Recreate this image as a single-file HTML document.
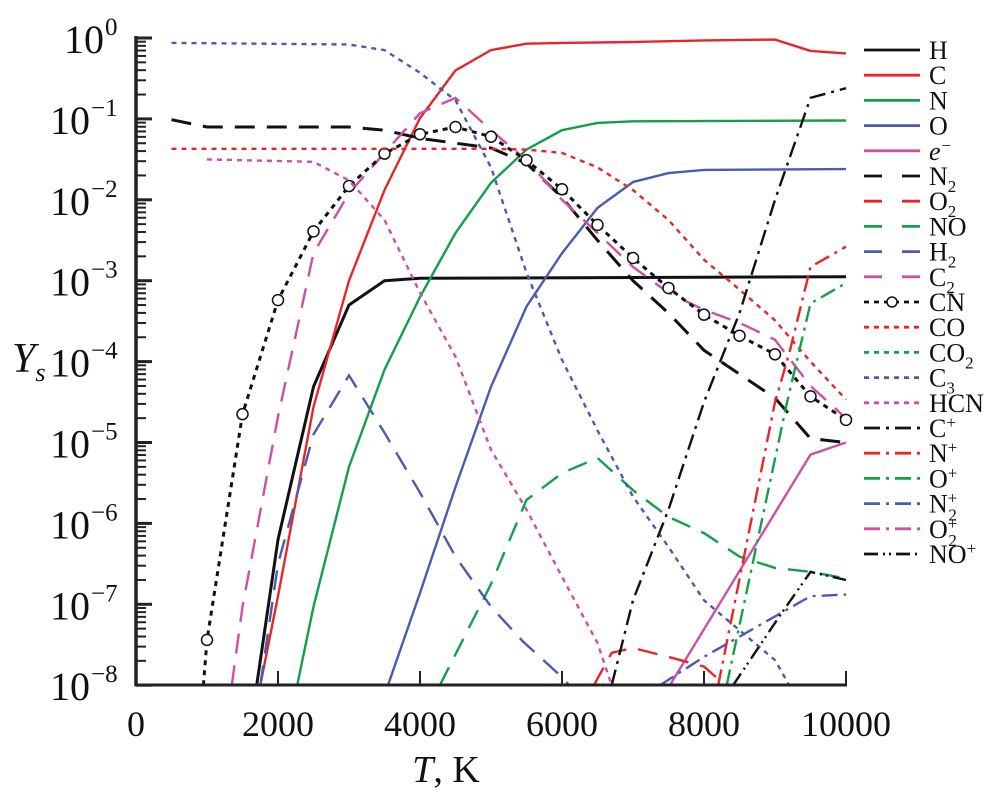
<!DOCTYPE html>
<html><head><meta charset="utf-8"><style>
html,body{margin:0;padding:0;background:#fff;}
svg{display:block;font-family:"Liberation Serif","Times New Roman",serif;}
text{font-family:"Liberation Serif","Times New Roman",serif;}
</style></head><body>
<svg id="chart" width="987" height="800" viewBox="0 0 987 800" xmlns="http://www.w3.org/2000/svg">
<g id="series"></g>
<g id="axes"></g>
<g id="legend"></g>
</svg>
<script>
const NS="http://www.w3.org/2000/svg";
const xTicks=[0,2000,4000,6000,8000,10000];
const yTickExps=[0,-1,-2,-3,-4,-5,-6,-7,-8];
const H_T=[1700,2000,2500,3000,3500,4000,10000];
const H_L=[-8,-6.2,-4.31,-3.3,-3.0,-2.97,-2.95];
const C_T=[1750,2000,2500,3000,3500,4000,4500,5000,5500,6000,7000,8000,9000,9500,10000];
const C_L=[-8,-6.9,-4.56,-3.0,-1.88,-0.99,-0.4,-0.15,-0.07,-0.06,-0.05,-0.03,-0.02,-0.16,-0.19];
const N_T=[2270,2500,3000,3500,4000,4500,5000,5500,6000,6500,7000,10000];
const N_L=[-8,-7.03,-5.3,-4.1,-3.2,-2.41,-1.79,-1.38,-1.14,-1.05,-1.03,-1.02];
const O_T=[3550,4000,4500,5000,5500,6000,6500,7000,7500,8000,10000];
const O_L=[-8,-6.86,-5.55,-4.31,-3.32,-2.66,-2.1,-1.78,-1.67,-1.63,-1.62];
const E_T=[7520,9500,10000];
const E_L=[-8,-5.15,-5.0];
const N2_T=[500,1000,3000,3500,4000,4500,5000,5500,6000,6500,7000,7500,8000,9000,9500,10000];
const N2_L=[-1.01,-1.1,-1.1,-1.14,-1.24,-1.3,-1.36,-1.55,-1.97,-2.5,-3.0,-3.4,-3.86,-4.45,-4.95,-5.0];
const O2_T=[6450,6700,7000,7500,8000,8300];
const O2_L=[-8,-7.6,-7.54,-7.65,-7.77,-8];
const NO_T=[4280,5000,5500,6000,6500,7000,7500,8000,8500,9000,9500,10000];
const NO_L=[-8,-6.75,-5.71,-5.38,-5.19,-5.59,-5.92,-6.12,-6.41,-6.55,-6.6,-6.68];
const H2_T=[1750,2000,2500,3000,3500,4000,4500,5000,5450,6000,6100];
const H2_L=[-8,-6.5,-4.9,-4.17,-4.88,-5.62,-6.41,-7.03,-7.46,-7.9,-8];
const C2_T=[1350,1500,2000,2500,3000,3500,4000,4500,5000,5500,6000,6500,7000,7500,8000,8500,9000,9500,10000];
const C2_L=[-8,-7.03,-4.68,-2.66,-1.92,-1.42,-0.93,-0.74,-1.14,-1.51,-2.0,-2.41,-2.83,-3.15,-3.36,-3.52,-3.73,-4.3,-4.7];
const CN_T=[950,1000,1500,2000,2500,3000,3500,4000,4500,5000,5500,6000,6500,7000,7500,8000,8500,9000,9500,10000];
const CN_L=[-8,-7.44,-4.65,-3.24,-2.39,-1.83,-1.43,-1.19,-1.1,-1.22,-1.51,-1.87,-2.31,-2.72,-3.09,-3.42,-3.68,-3.91,-4.43,-4.72];
const CO_T=[500,5000,5500,6000,6500,7000,7500,8000,8500,9000,9500,10000];
const CO_L=[-1.37,-1.37,-1.38,-1.42,-1.6,-1.88,-2.25,-2.74,-3.11,-3.49,-4.0,-4.47];
const C3_T=[500,3000,3500,4000,4500,5000,5500,6000,6500,7000,7500,8000,8500,9000,9200];
const C3_L=[-0.06,-0.08,-0.15,-0.43,-0.77,-1.6,-2.9,-3.98,-4.85,-5.67,-6.29,-6.95,-7.32,-7.69,-8];
const HCN_T=[1000,2500,3000,3500,4000,4500,5000,5500,6000,6500,6700];
const HCN_L=[-1.5,-1.53,-1.76,-2.25,-3.15,-3.94,-5.09,-5.83,-6.66,-7.48,-8];
const CP_T=[6700,7000,7500,8000,8500,9000,9500,10000];
const CP_L=[-8,-6.95,-5.83,-4.5,-3.4,-2.0,-0.74,-0.62];
const NP_T=[8200,9000,9200,9500,10000];
const NP_L=[-8,-4.5,-3.9,-2.83,-2.58];
const OP_T=[8320,9170,9500,10000];
const OP_L=[-8,-4.5,-3.28,-3.03];
const N2P_T=[7380,8000,9000,9500,10000];
const N2P_L=[-8,-7.65,-7.15,-6.9,-6.88];
const NOP_T=[8410,9100,9500,10000];
const NOP_L=[-8,-7.1,-6.6,-6.7];

const X0=136,XS=0.071,Y0=38,YS=80.9;
function xs(t){return X0+t*XS;}
function ys(l){return Y0-l*YS;}

const RED="#e8262a",GRN="#12a04a",BLU="#4a5bb0",MAG="#cc4fa8",BLK="#111";
const DASH="20 12",DOT="5 5",DDOT="16 6 3 6",DDDOT="14 5 2 4 2 5";
const series=[
 {n:"H",lbl:"H",T:H_T,L:H_L,c:BLK,d:""},
 {n:"C",lbl:"C",T:C_T,L:C_L,c:RED,d:""},
 {n:"N",lbl:"N",T:N_T,L:N_L,c:GRN,d:""},
 {n:"O",lbl:"O",T:O_T,L:O_L,c:BLU,d:""},
 {n:"e",lbl:"e<tspan dy='-9' font-size='17'>−</tspan>",it:true,T:E_T,L:E_L,c:MAG,d:""},
 {n:"N2",lbl:"N<tspan dy='7' font-size='17'>2</tspan>",T:N2_T,L:N2_L,c:BLK,d:DASH},
 {n:"O2",lbl:"O<tspan dy='7' font-size='17'>2</tspan>",T:O2_T,L:O2_L,c:RED,d:DASH},
 {n:"NO",lbl:"NO",T:NO_T,L:NO_L,c:GRN,d:DASH},
 {n:"H2",lbl:"H<tspan dy='7' font-size='17'>2</tspan>",T:H2_T,L:H2_L,c:BLU,d:DASH},
 {n:"C2",lbl:"C<tspan dy='7' font-size='17'>2</tspan>",T:C2_T,L:C2_L,c:MAG,d:DASH},
 {n:"CN",lbl:"CN",T:CN_T,L:CN_L,c:BLK,d:DOT,mk:true},
 {n:"CO",lbl:"CO",T:CO_T,L:CO_L,c:RED,d:DOT},
 {n:"CO2",lbl:"CO<tspan dy='7' font-size='17'>2</tspan>",T:[],L:[],c:GRN,d:DOT},
 {n:"C3",lbl:"C<tspan dy='7' font-size='17'>3</tspan>",T:C3_T,L:C3_L,c:BLU,d:DOT},
 {n:"HCN",lbl:"HCN",T:HCN_T,L:HCN_L,c:MAG,d:DOT},
 {n:"C+",lbl:"C<tspan dy='-9' font-size='17'>+</tspan>",T:CP_T,L:CP_L,c:BLK,d:DDOT},
 {n:"N+",lbl:"N<tspan dy='-9' font-size='17'>+</tspan>",T:NP_T,L:NP_L,c:RED,d:DDOT},
 {n:"O+",lbl:"O<tspan dy='-9' font-size='17'>+</tspan>",T:OP_T,L:OP_L,c:GRN,d:DDOT},
 {n:"N2+",lbl:"N<tspan dy='-9' font-size='17'>+</tspan><tspan dx='-9' dy='17' font-size='17'>2</tspan>",T:N2P_T,L:N2P_L,c:BLU,d:DDOT},
 {n:"O2+",lbl:"O<tspan dy='-9' font-size='17'>+</tspan><tspan dx='-9' dy='17' font-size='17'>2</tspan>",T:[],L:[],c:MAG,d:DDOT},
 {n:"NO+",lbl:"NO<tspan dy='-9' font-size='17'>+</tspan>",T:NOP_T,L:NOP_L,c:BLK,d:DDDOT}
];
const sg=document.getElementById("series");
series.forEach(s=>{
 if(!s.T.length)return;
 const p=document.createElementNS(NS,"path");
 
 
 p.setAttribute("d",s.T.map((t,i)=>(i?"L":"M")+xs(t).toFixed(1)+" "+ys(s.L[i]).toFixed(1)).join(" "));
 p.setAttribute("fill","none");p.setAttribute("stroke",s.c);
 p.setAttribute("stroke-width",s.n==="H"||s.n==="N2"||s.n==="CN"?"3":"2.4");
 if(s.d)p.setAttribute("stroke-dasharray",s.d);
 sg.appendChild(p);
 if(s.mk){
  s.T.forEach((t,i)=>{
   if(i===0)return;
   const c=document.createElementNS(NS,"circle");
   
   
   c.setAttribute("cx",xs(t));c.setAttribute("cy",ys(s.L[i]));c.setAttribute("r","5.5");
   c.setAttribute("fill","#fff");c.setAttribute("stroke",BLK);c.setAttribute("stroke-width","1.5");
   sg.appendChild(c);
  });
 }
});
const ax=document.getElementById("axes");
let h='';
h+=`<rect x="0" y="686" width="987" height="114" fill="#fff"/>`;
h+=`<line x1="${X0}" y1="${Y0-2}" x2="${X0}" y2="686" stroke="#222" stroke-width="3.5"/>`;
h+=`<line x1="${X0-1}" y1="685" x2="${xs(10000)+1}" y2="685" stroke="#222" stroke-width="3"/>`;
xTicks.forEach(t=>{
 h+=`<line x1="${xs(t)}" y1="685" x2="${xs(t)}" y2="671" stroke="#222" stroke-width="2"/>`;
 h+=`<text x="${xs(t)}" y="736" font-size="36" text-anchor="middle" fill="#111">${t}</text>`;
});
yTickExps.forEach(e=>{
 const y=ys(e);
 h+=`<line x1="${X0}" y1="${y}" x2="${X0+16}" y2="${y}" stroke="#222" stroke-width="3"/>`;
 if(e>-8){for(let m=2;m<=9;m++){const yy=ys(e-1+Math.log10(m));h+=`<line x1="${X0}" y1="${yy}" x2="${X0+10}" y2="${yy}" stroke="#222" stroke-width="2"/>`;}}
 h+=`<text x="${e===0?104:90}" y="${y+15}" font-size="40" text-anchor="end" fill="#111">10</text>`;
 h+=`<text x="${e===0?105:91}" y="${y-3}" font-size="25" text-anchor="start" fill="#111">${e===0?'0':'−'+(-e)}</text>`;
});
h+=`<text x="446" y="782" font-size="38" text-anchor="middle" fill="#111"><tspan font-style="italic">T</tspan>, K</text>`;
h+=`<text x="12" y="372" font-size="42" font-style="italic" fill="#111">Y<tspan font-size="26" dy="9">s</tspan></text>`;
ax.innerHTML=h;
const lg=document.getElementById("legend");
let lh='';
series.forEach((s,i)=>{
 const y=50+i*25.2;
 lh+=`<g>`;
 lh+=`<line x1="864" y1="${y}" x2="920" y2="${y}" stroke="${s.c}" stroke-width="2.8" ${s.d?`stroke-dasharray="${s.d==DASH?'18 20':s.d}"`:''}/>`;
 if(s.mk)lh+=`<circle cx="892" cy="${y}" r="5" fill="#fff" stroke="#111" stroke-width="1.5"/>`;
 lh+=`<text x="929" y="${y+9}" font-size="26" fill="#111" ${s.it?'font-style="italic"':''}>${s.lbl}</text></g>`;
});
lg.innerHTML=lh;
</script>
</body></html>
